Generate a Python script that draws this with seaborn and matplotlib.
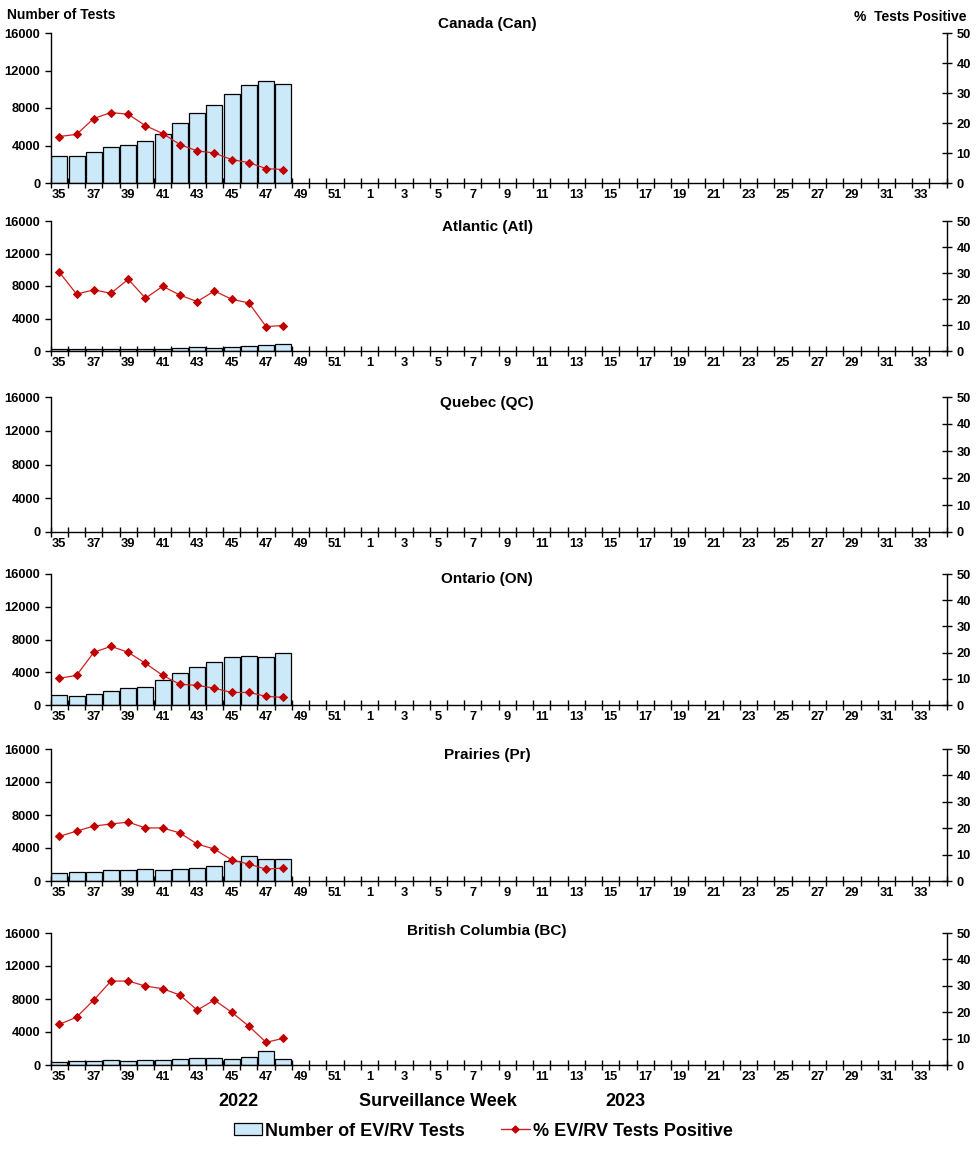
import numpy as np
import pandas as pd
import matplotlib
matplotlib.use("Agg")
import matplotlib.pyplot as plt
from matplotlib.patches import Patch
from matplotlib.lines import Line2D
import seaborn as sns

# surveillance weeks: 2022 wk 35-52, then 2023 wk 1-34
weeks = list(range(35, 53)) + list(range(1, 35))
week_labels = [str(w) if i % 2 == 0 else "" for i, w in enumerate(weeks)]
reported_weeks = list(range(35, 49))

regions = ["Canada (Can)", "Atlantic (Atl)", "Quebec (QC)",
           "Ontario (ON)", "Prairies (Pr)", "British Columbia (BC)"]

can_tests = [2850, 2850, 3360, 3820, 4100, 4430, 5180, 6360, 7430, 8290, 9460, 10430, 10860, 10540]
can_pct = [15.5, 16.2, 21.5, 23.5, 22.9, 19.1, 16.5, 12.8, 10.7, 10.0, 7.8, 6.8, 4.8, 4.5]

atl_tests = [200, 200, 290, 290, 250, 290, 250, 330, 450, 330, 450, 580, 700, 820]
atl_pct = [30.3, 21.9, 23.5, 22.2, 27.6, 20.3, 24.9, 21.5, 19.0, 23.1, 19.9, 18.5, 9.4, 9.8]

qc_tests = []
qc_pct = []

on_tests = [1180, 1060, 1300, 1670, 2040, 2160, 3010, 3870, 4600, 5210, 5820, 5940, 5820, 6310]
on_pct = [10.2, 11.3, 20.1, 22.4, 20.1, 15.9, 11.3, 7.9, 7.5, 6.4, 4.8, 4.8, 3.3, 2.9]

pr_tests = [970, 1090, 1090, 1330, 1330, 1450, 1330, 1450, 1580, 1820, 2420, 3030, 2670, 2670]
pr_pct = [16.9, 18.9, 20.8, 21.6, 22.3, 20.1, 20.1, 18.2, 14.0, 12.1, 8.0, 6.4, 4.5, 4.9]

bc_tests = [320, 450, 450, 570, 450, 570, 570, 690, 810, 810, 690, 930, 1660, 690]
bc_pct = [15.4, 18.1, 24.6, 31.8, 31.8, 29.9, 28.9, 26.5, 20.8, 24.6, 20.0, 14.7, 8.6, 10.1]

region_tests = [can_tests, atl_tests, qc_tests, on_tests, pr_tests, bc_tests]
region_pct = [can_pct, atl_pct, qc_pct, on_pct, pr_pct, bc_pct]

BAR_COLOR = "#CCE9FA"
LINE_COLOR = "#D02020"
MARK_COLOR = "#C00000"

sns.set_style("white")
plt.rcParams["font.family"] = ["Liberation Sans", "DejaVu Sans"]
plt.rcParams["font.weight"] = "bold"
plt.rcParams["text.color"] = "black"
plt.rcParams["xtick.color"] = "black"
plt.rcParams["ytick.color"] = "black"
plt.rcParams["xtick.labelcolor"] = "black"
plt.rcParams["ytick.labelcolor"] = "black"

fig = plt.figure(figsize=(9.76, 11.52), dpi=100)
H = 1152.0
left, width = 50.7 / 976, 896 / 976
# (top px, bottom px, title px) for each panel
panel_px = [(33, 183, 24), (221, 351, 227), (397, 532, 403),
            (574, 705, 579), (749, 881, 755), (933, 1065, 931)]

for name, tests, pct, (top, bot, ty) in zip(regions, region_tests, region_pct, panel_px):
    ax = fig.add_axes([left, 1 - bot / H, width, (bot - top) / H])
    ax2 = ax.twinx()

    if tests:
        df = pd.DataFrame({"idx": [weeks.index(w) for w in reported_weeks],
                           "tests": tests, "pct": pct})
        sns.barplot(data=df, x="idx", y="tests", ax=ax, native_scale=True,
                    color=BAR_COLOR, edgecolor="black", linewidth=0.9,
                    width=0.93, saturation=1)
        sns.lineplot(data=df, x="idx", y="pct", ax=ax2, color=LINE_COLOR,
                     linewidth=0.9, marker="D", markersize=4,
                     markerfacecolor=MARK_COLOR, markeredgecolor=MARK_COLOR)

    ax.set_xlim(-0.5, len(weeks) - 0.5)
    ax.set_ylim(0, 16000)
    ax.set_yticks(range(0, 16001, 4000))
    ax2.set_ylim(0, 50)
    ax2.set_yticks(range(0, 51, 10))
    ax.set_xticks(range(len(weeks)))
    ax.set_xticklabels(week_labels)
    ax.set_xticks(np.arange(-0.5, len(weeks), 1), minor=True)
    ax.set_xlabel("")
    ax.set_ylabel("")
    ax2.set_ylabel("")

    for a in (ax, ax2):
        a.spines["top"].set_visible(False)
        for s in ("left", "right", "bottom"):
            a.spines[s].set_color("black")
            a.spines[s].set_linewidth(1.0)
    ax.spines["right"].set_visible(False)
    ax2.spines["left"].set_visible(False)
    ax2.spines["bottom"].set_visible(False)

    ax.tick_params(axis="x", which="major", length=0, pad=4, labelsize=9.3)
    ax.tick_params(axis="x", which="minor", direction="inout", length=7,
                   width=1.0, color="black", bottom=True)
    ax.tick_params(axis="y", direction="out", length=4, width=1.0,
                   color="black", labelsize=9.3, left=True)
    ax2.tick_params(axis="y", direction="inout", length=7, width=1.0,
                    color="black", labelsize=9.3, right=True)
    for lab in ax.get_xticklabels() + ax.get_yticklabels() + ax2.get_yticklabels():
        lab.set_fontweight("bold")
        lab.set_color("black")

    fig.text(487 / 976, 1 - ty / H, name, ha="center", va="center",
             fontsize=11, fontweight="bold", color="black")

fig.text(7 / 976, 1 - 15 / H, "Number of Tests", ha="left", va="center",
         fontsize=10, fontweight="bold")
fig.text(966 / 976, 1 - 17 / H, "%  Tests Positive", ha="right", va="center",
         fontsize=10, fontweight="bold")

fig.text(238 / 976, 1 - 1101 / H, "2022", ha="center", va="center",
         fontsize=13, fontweight="bold")
fig.text(438 / 976, 1 - 1101 / H, "Surveillance Week", ha="center", va="center",
         fontsize=13, fontweight="bold")
fig.text(625 / 976, 1 - 1101 / H, "2023", ha="center", va="center",
         fontsize=13, fontweight="bold")

handles = [Patch(facecolor=BAR_COLOR, edgecolor="black", linewidth=0.9),
           Line2D([], [], color=LINE_COLOR, linewidth=1.0, marker="D",
                  markersize=3.5, markerfacecolor=MARK_COLOR, markeredgecolor=MARK_COLOR)]
fig.legend(handles, ["Number of EV/RV Tests", "% EV/RV Tests Positive"],
           loc="center", bbox_to_anchor=(483 / 976, 1 - 1131 / H), ncol=2,
           frameon=False, prop={"size": 13, "weight": "bold"},
           handlelength=1.6, handleheight=0.6, handletextpad=0.15,
           columnspacing=2.0)

fig.savefig("out.png", dpi=100)
